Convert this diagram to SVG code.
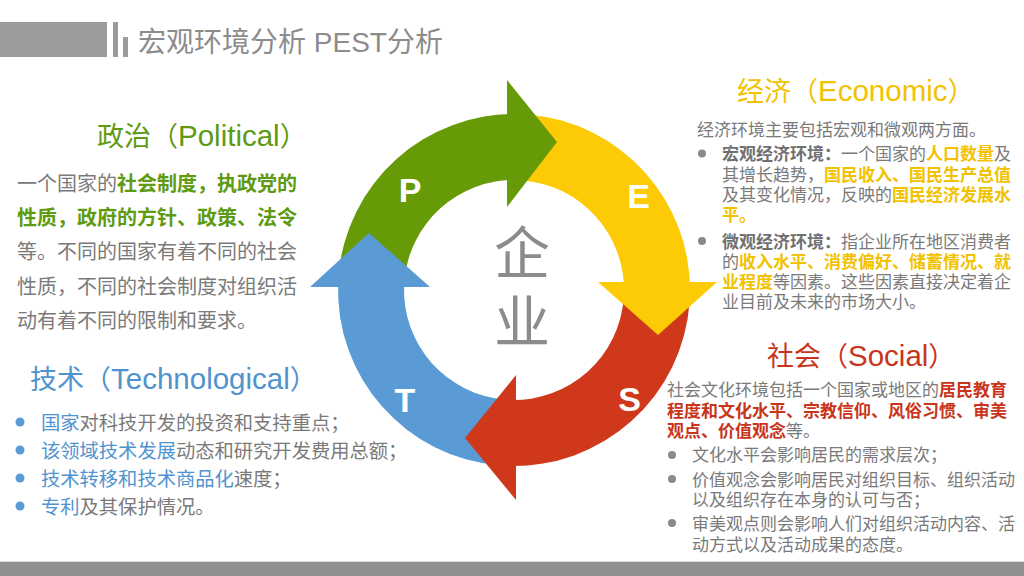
<svg xmlns="http://www.w3.org/2000/svg" width="1024" height="576" viewBox="0 0 1024 576">
<style>
text{font-family:"Liberation Sans","Noto Sans CJK SC",sans-serif;}
.hd{font-size:28px;fill:#8c8c8c;}
.ttl{font-size:27px;}
.lat{font-size:29.5px;}
.b20{font-size:20px;fill:#7a7a7a;}
.b19{font-size:19.3px;fill:#7a7a7a;}
.b17{font-size:17px;fill:#7a7a7a;}
.g{fill:#5e9a12;font-weight:bold;}
.bl{fill:#4f93cf;}
.y{fill:#f2c200;font-weight:bold;}
.r{fill:#c8351b;font-weight:bold;}
.k{fill:#707070;font-weight:bold;}
.let{font-size:34px;font-weight:bold;fill:#fff;text-anchor:middle;}
.ctr{font-size:56px;fill:#8c8c8c;text-anchor:middle;font-family:"Noto Sans CJK SC",sans-serif;}
.dotg{fill:#8a8a8a;}
.dotb{fill:#5a9bd5;}
</style>
<rect width="1024" height="576" fill="#ffffff"/>
<g id="header">
<rect x="0" y="22" width="107" height="35" fill="#9b9b9b"/>
<rect x="113" y="22" width="5" height="35" fill="#9b9b9b"/>
<rect x="123" y="37" width="5" height="20" fill="#9b9b9b"/>
<text class="hd" x="138" y="52">宏观环境分析 PEST分析</text>
</g>
<g id="footer">
<rect x="0" y="561" width="1024" height="1" fill="#d9d9d9"/>
<rect x="0" y="562" width="1024" height="14" fill="#909090"/>
</g>
<g id="connectors">
<path id="band-p" fill="#669a06" d="M338.67,274.66 A176,176 0 0 1 517.07,114.03 L515.92,180.02 A110,110 0 0 0 404.42,280.41 Z"/>
<path id="band-e" fill="#fccb05" d="M529.34,114.67 A176,176 0 0 1 689.97,293.07 L623.98,291.92 A110,110 0 0 0 523.59,180.42 Z"/>
<path id="band-s" fill="#d0381c" d="M689.57,302.28 A176,176 0 0 1 507.86,465.89 L510.16,399.93 A110,110 0 0 0 623.73,297.67 Z"/>
<path id="band-t" fill="#5a9bd5" d="M498.66,465.33 A176,176 0 0 1 338.11,283.86 L404.07,286.16 A110,110 0 0 0 504.41,399.58 Z"/>
<polygon id="head-p" fill="#669a06" points="507,80 557,142 507,207"/>
<polygon id="head-e" fill="#fccb05" points="598,282 717,282 658,335"/>
<polygon id="head-s" fill="#d0381c" points="516,375 516,500 465,438"/>
<polygon id="head-t" fill="#5a9bd5" points="310,287 369,233 430,287"/>
</g>
<g id="node-letters">
<text class="let" x="410" y="202">P</text>
<text class="let" x="638.5" y="208">E</text>
<text class="let" x="629.5" y="411">S</text>
<text class="let" x="405" y="412">T</text>
</g>
<g id="node-center">
<text class="ctr" x="522" y="293" writing-mode="vertical-rl" letter-spacing="13">企业</text>
</g>
<g id="node-political">
<text class="ttl" x="97" y="146" fill="#5e9a12">政治（<tspan class="lat">Political</tspan>）</text>
<text class="b20" x="17" y="191">一个国家的<tspan class="g">社会制度，执政党的</tspan></text>
<text class="b20" x="17" y="225"><tspan class="g">性质，政府的方针、政策、法令</tspan></text>
<text class="b20" x="17" y="259">等。不同的国家有着不同的社会</text>
<text class="b20" x="17" y="294">性质，不同的社会制度对组织活</text>
<text class="b20" x="17" y="328">动有着不同的限制和要求。</text>
</g>
<g id="node-technological">
<text class="ttl" x="30" y="389" fill="#4f93cf">技术（<tspan class="lat">Technological</tspan>）</text>
<circle class="dotb" cx="20" cy="422" r="4.5"/>
<circle class="dotb" cx="20" cy="450" r="4.5"/>
<circle class="dotb" cx="20" cy="478" r="4.5"/>
<circle class="dotb" cx="20" cy="506" r="4.5"/>
<text class="b19" x="41" y="430"><tspan class="bl">国家</tspan>对科技开发的投资和支持重点；</text>
<text class="b19" x="41" y="458"><tspan class="bl">该领域技术发展</tspan>动态和研究开发费用总额；</text>
<text class="b19" x="41" y="486"><tspan class="bl">技术转移和技术商品化</tspan>速度；</text>
<text class="b19" x="41" y="514"><tspan class="bl">专利</tspan>及其保护情况。</text>
</g>
<g id="node-economic">
<text class="ttl" x="737" y="101" fill="#f2c200">经济（<tspan class="lat">Economic</tspan>）</text>
<text class="b17" x="697" y="136">经济环境主要包括宏观和微观两方面。</text>
<circle class="dotg" cx="702" cy="153.5" r="4"/>
<circle class="dotg" cx="702" cy="241" r="4"/>
<text class="b17" x="722" y="160"><tspan class="k">宏观经济环境：</tspan>一个国家的<tspan class="y">人口数量</tspan>及</text>
<text class="b17" x="722" y="181">其增长趋势，<tspan class="y">国民收入、国民生产总值</tspan></text>
<text class="b17" x="722" y="201">及其变化情况，反映的<tspan class="y">国民经济发展水</tspan></text>
<text class="b17" x="722" y="221"><tspan class="y">平。</tspan></text>
<text class="b17" x="722" y="248"><tspan class="k">微观经济环境：</tspan>指企业所在地区消费者</text>
<text class="b17" x="722" y="268">的<tspan class="y">收入水平、消费偏好、储蓄情况、就</tspan></text>
<text class="b17" x="722" y="288"><tspan class="y">业程度</tspan>等因素。这些因素直接决定着企</text>
<text class="b17" x="722" y="308">业目前及未来的市场大小。</text>
</g>
<g id="node-social">
<text class="ttl" x="767" y="366" fill="#c8351b">社会（<tspan class="lat">Social</tspan>）</text>
<text class="b17" x="667" y="396">社会文化环境包括一个国家或地区的<tspan class="r">居民教育</tspan></text>
<text class="b17" x="667" y="416.5"><tspan class="r">程度和文化水平、宗教信仰、风俗习惯、审美</tspan></text>
<text class="b17" x="667" y="437"><tspan class="r">观点、价值观念</tspan>等。</text>
<circle class="dotg" cx="672" cy="455" r="4"/>
<circle class="dotg" cx="672" cy="479" r="4"/>
<circle class="dotg" cx="672" cy="523" r="4"/>
<text class="b17" x="692" y="461">文化水平会影响居民的需求层次；</text>
<text class="b17" x="692" y="485.5">价值观念会影响居民对组织目标、组织活动</text>
<text class="b17" x="692" y="506">以及组织存在本身的认可与否；</text>
<text class="b17" x="692" y="530">审美观点则会影响人们对组织活动内容、活</text>
<text class="b17" x="692" y="550.5">动方式以及活动成果的态度。</text>
</g>
</svg>
